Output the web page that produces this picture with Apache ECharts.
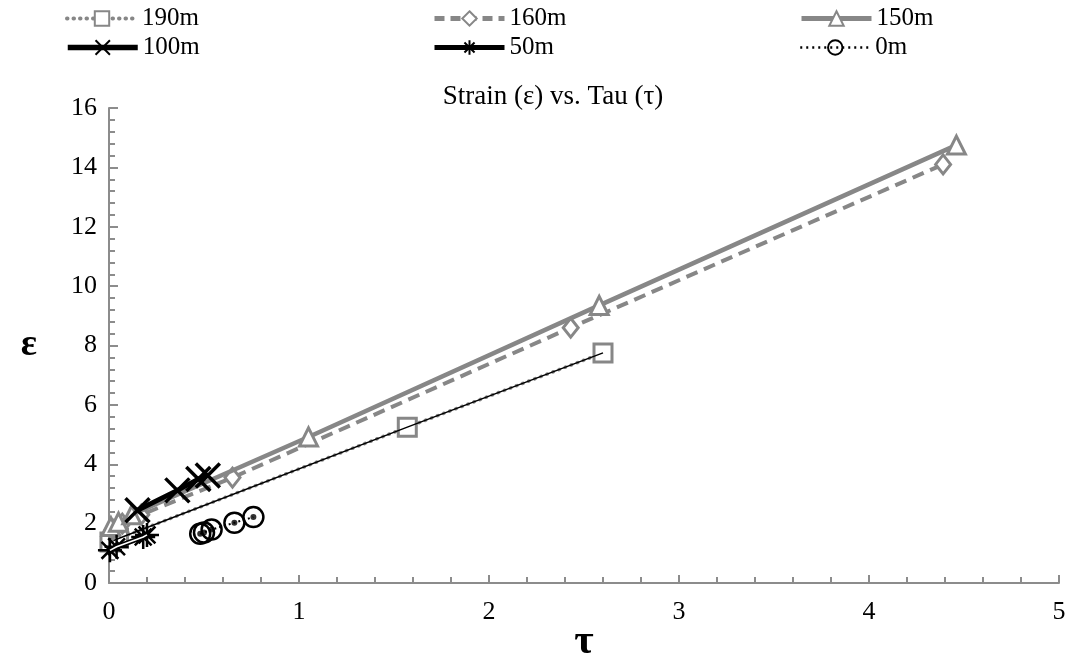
<!DOCTYPE html>
<html>
<head>
<meta charset="utf-8">
<script src="https://cdn.jsdelivr.net/npm/echarts@6/dist/echarts.min.js"></script>
<style>
  html, body { margin: 0; padding: 0; background: #fff; }
  #chart { width: 1073px; height: 665px; }
</style>
</head>
<body>
<div id="chart"></div>
<script>
// Measured strain (ε) against tau (τ) at six depths; each array holds [τ, ε] pairs.
const depth190 = [[0.005, 1.38], [0.05, 1.5], [1.57, 5.25], [2.6, 7.75]];
const depth160 = [[0.02, 1.8], [0.07, 2.0], [0.17, 2.3], [0.65, 3.55], [2.43, 8.6], [4.39, 14.1]];
const depth150 = [[0.01, 1.9], [0.05, 2.05], [0.12, 2.3], [1.05, 4.92], [2.58, 9.35], [4.46, 14.75]];
const depth100 = [[0.15, 2.45], [0.36, 3.12], [0.47, 3.5], [0.52, 3.62]];
const depth50 = [[0.005, 1.1], [0.04, 1.22], [0.18, 1.55], [0.2, 1.62]];
const depth0 = [[0.48, 1.66], [0.50, 1.70], [0.54, 1.80], [0.66, 2.03], [0.76, 2.22]];

const seriesNames = ['190m', '160m', '150m', '100m', '50m', '0m'];
const xTicks = [0, 1, 2, 3, 4, 5];
const yTicks = [0, 2, 4, 6, 8, 10, 12, 14, 16];

const FONT = 'Liberation Serif';
const GRAY = '#878787';
const AXIS_GRAY = '#8c8c8c';

const crossPath = 'path://M0,0L10,10M10,0L0,10';
const starPath = 'path://M0,5L10,5M5,0L5,10M1.5,1.5L8.5,8.5M8.5,1.5L1.5,8.5';

// legend slots: two rows of three, with the line drawn as each series draws it
const legendPos = [
  { left: 60, top: 1 }, { left: 427, top: 1 }, { left: 794, top: 1 },
  { left: 60, top: 30 }, { left: 427, top: 30 }, { left: 794, top: 30 }
];
const legendLines = [
  { color: GRAY, width: 4, type: [0.5, 6], cap: 'round' },
  { color: GRAY, width: 5, type: [10, 6] },
  { color: GRAY, width: 5 },
  { color: '#000', width: 5.5 },
  { color: '#000', width: 5 },
  { color: '#000', width: 2.5, type: [2, 4] }
];
const legends = seriesNames.map((n, i) => ({
  data: [n],
  left: legendPos[i].left,
  top: legendPos[i].top,
  itemWidth: 70,
  itemHeight: 18,
  itemGap: 4,
  selectedMode: false,
  lineStyle: legendLines[i],
  textStyle: { fontFamily: FONT, fontSize: 25, color: '#000' }
}));

const chart = echarts.init(document.getElementById('chart'), null, { renderer: 'canvas' });

chart.setOption({
  animation: false,
  backgroundColor: '#fff',
  title: {
    text: 'Strain (ε) vs. Tau (τ)',
    left: 548,
    textAlign: 'center',
    top: 78,
    textStyle: { fontFamily: FONT, fontSize: 27, fontWeight: 'normal', color: '#000' }
  },
  legend: legends,
  grid: { left: 109, right: 14, top: 108, bottom: 82, containLabel: false, outerBoundsMode: 'none' },
  xAxis: {
    type: 'value',
    min: xTicks[0],
    max: xTicks[xTicks.length - 1],
    interval: 1,
    name: 'τ',
    nameLocation: 'middle',
    nameGap: 38,
    nameMoveOverlap: false,
    nameTextStyle: { fontFamily: FONT, fontSize: 42, fontWeight: 'bold', color: '#000' },
    axisLine: { lineStyle: { color: AXIS_GRAY, width: 2 } },
    axisTick: { inside: true, length: 8, lineStyle: { color: AXIS_GRAY, width: 2 } },
    minorTick: { show: true, splitNumber: 5, length: 6, lineStyle: { color: AXIS_GRAY, width: 2 } },
    splitLine: { show: false },
    axisLabel: { fontFamily: FONT, fontSize: 26, color: '#000', margin: 16 }
  },
  yAxis: {
    type: 'value',
    min: yTicks[0],
    max: yTicks[yTicks.length - 1],
    interval: 2,
    name: 'ε',
    nameLocation: 'middle',
    nameGap: 72,
    nameRotate: 0,
    nameMoveOverlap: false,
    nameTextStyle: { fontFamily: FONT, fontSize: 38, fontWeight: 'bold', color: '#000' },
    axisLine: { show: true, lineStyle: { color: AXIS_GRAY, width: 2 } },
    axisTick: { show: true, inside: true, length: 9, lineStyle: { color: AXIS_GRAY, width: 2 } },
    minorTick: { show: true, splitNumber: 5, length: 6, lineStyle: { color: AXIS_GRAY, width: 2 } },
    splitLine: { show: false },
    axisLabel: { fontFamily: FONT, fontSize: 26, color: '#000', margin: 12 }
  },
  series: [
    {
      name: '190m', type: 'line', data: depth190, z: 2,
      symbol: 'rect', symbolSize: 18,
      lineStyle: { color: GRAY, width: 3.5, type: [0.5, 6], cap: 'round' },
      itemStyle: { color: '#fff', borderColor: GRAY, borderWidth: 3 }
    },
    {
      // thin fit line along the 190 m readings
      type: 'line', data: depth190, z: 3, symbol: 'none',
      lineStyle: { color: '#000', width: 1.5 }
    },
    {
      name: '160m', type: 'line', data: depth160, z: 4,
      symbol: 'diamond', symbolSize: [15, 19],
      lineStyle: { color: GRAY, width: 4, type: [12, 7] },
      itemStyle: { color: '#fff', borderColor: GRAY, borderWidth: 3 }
    },
    {
      name: '150m', type: 'line', data: depth150, z: 5,
      symbol: 'triangle', symbolSize: [18, 18],
      lineStyle: { color: GRAY, width: 4.5 },
      itemStyle: { color: '#fff', borderColor: GRAY, borderWidth: 3 }
    },
    {
      name: '100m', type: 'line', data: depth100, z: 6,
      symbol: crossPath, symbolSize: 24,
      lineStyle: { color: '#000', width: 5 },
      itemStyle: { color: '#000', borderColor: '#000', borderWidth: 3.5 }
    },
    {
      name: '50m', type: 'line', data: depth50, z: 7,
      symbol: starPath, symbolSize: 24,
      lineStyle: { color: '#000', width: 5 },
      itemStyle: { color: '#000', borderColor: '#000', borderWidth: 2.5 }
    },
    {
      // white core of the double-ruled 50 m line
      type: 'line', data: depth50, z: 8, symbol: 'none',
      lineStyle: { color: '#fff', width: 1.6 }
    },
    {
      name: '0m', type: 'line', data: depth0, z: 9,
      symbol: 'circle', symbolSize: 20,
      lineStyle: { color: '#000', width: 2, type: [2, 3] },
      itemStyle: { color: 'rgba(255,255,255,0)', borderColor: '#000', borderWidth: 2.5 }
    },
    {
      // centre dots of the 0 m markers
      type: 'scatter', data: depth0, z: 10, symbol: 'circle', symbolSize: 6,
      itemStyle: { color: '#000' }
    }
  ]
});
</script>
</body>
</html>
